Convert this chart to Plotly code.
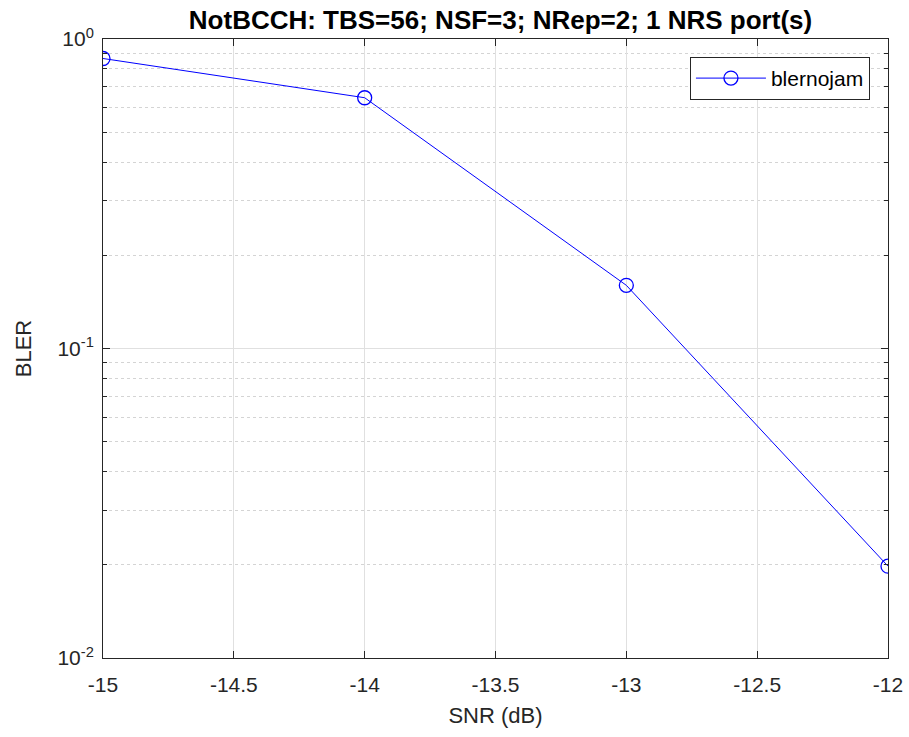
import plotly.graph_objects as go

snr = [-15, -14, -13, -12]
bler = [0.865, 0.646, 0.16, 0.0198]
series_name = "blernojam"
title_text = "NotBCCH: TBS=56; NSF=3; NRep=2; 1 NRS port(s)"
x_tickvals = [-15, -14.5, -14, -13.5, -13, -12.5, -12]
x_ticktext = ["-15", "-14.5", "-14", "-13.5", "-13", "-12.5", "-12"]
y_tickvals = [0.01, 0.1, 1]
y_ticktext = ["10<sup>-2</sup>", "10<sup>-1</sup>", "10<sup>0</sup>"]
y_minor_vals = [0.02, 0.03, 0.04, 0.05, 0.06, 0.07, 0.08, 0.09,
                0.2, 0.3, 0.4, 0.5, 0.6, 0.7, 0.8, 0.9]

font_family = "Liberation Sans, Arial, sans-serif"
W, H = 909, 737
ML, MR, MT, MB = 103, 21, 39, 79

fig = go.Figure()
fig.add_trace(go.Scatter(
    x=snr, y=bler, name=series_name, mode="lines+markers",
    line=dict(color="#0000ff", width=1),
    marker=dict(symbol="circle-open", size=14, color="#0000ff", line=dict(width=1.3, color="#0000ff")),
))

axis_common = dict(
    showline=True, linecolor="#262626", linewidth=1, mirror="ticks",
    ticks="inside", ticklen=7, tickcolor="#262626",
    tickfont=dict(family=font_family, size=21, color="#262626"),
    showgrid=True, gridcolor="#e0e0e0", gridwidth=1, zeroline=False,
    automargin=False,
)

fig.update_layout(
    width=W, height=H,
    margin=dict(l=ML, r=MR, t=MT, b=MB, autoexpand=False),
    paper_bgcolor="white", plot_bgcolor="white",
    title=dict(text="<b>" + title_text + "</b>", x=(ML + 5 + (W - MR - ML) / 2) / W, xanchor="center",
               y=1 - 20 / H, yanchor="middle",
               font=dict(family=font_family, size=26, color="black")),
    xaxis=dict(range=[-15, -12], tickvals=x_tickvals, ticktext=x_ticktext,
               ticklabelstandoff=8,
               title=dict(text="SNR (dB)", font=dict(family=font_family, size=22, color="#262626"), standoff=12),
               **axis_common),
    yaxis=dict(type="log", range=[-2, 0], tickvals=y_tickvals, ticktext=y_ticktext,
               ticklabelstandoff=4,
               title=dict(text="BLER", font=dict(family=font_family, size=22, color="#262626"), standoff=19),
               minor=dict(tickvals=y_minor_vals, ticks="inside", ticklen=4, tickcolor="#262626", showgrid=True,
                          gridcolor="#d4d4d4", griddash="dot", gridwidth=1),
               **axis_common),
    legend=dict(x=0.977, y=0.971, xanchor="right", yanchor="top", itemwidth=70,
                bgcolor="white", bordercolor="#262626", borderwidth=1,
                font=dict(family=font_family, size=21, color="black")),
    showlegend=True,
)

fig.write_html("out.html", config={"displayModeBar": False},
               post_script="document.body.style.margin='0';document.body.style.overflow='hidden';")
